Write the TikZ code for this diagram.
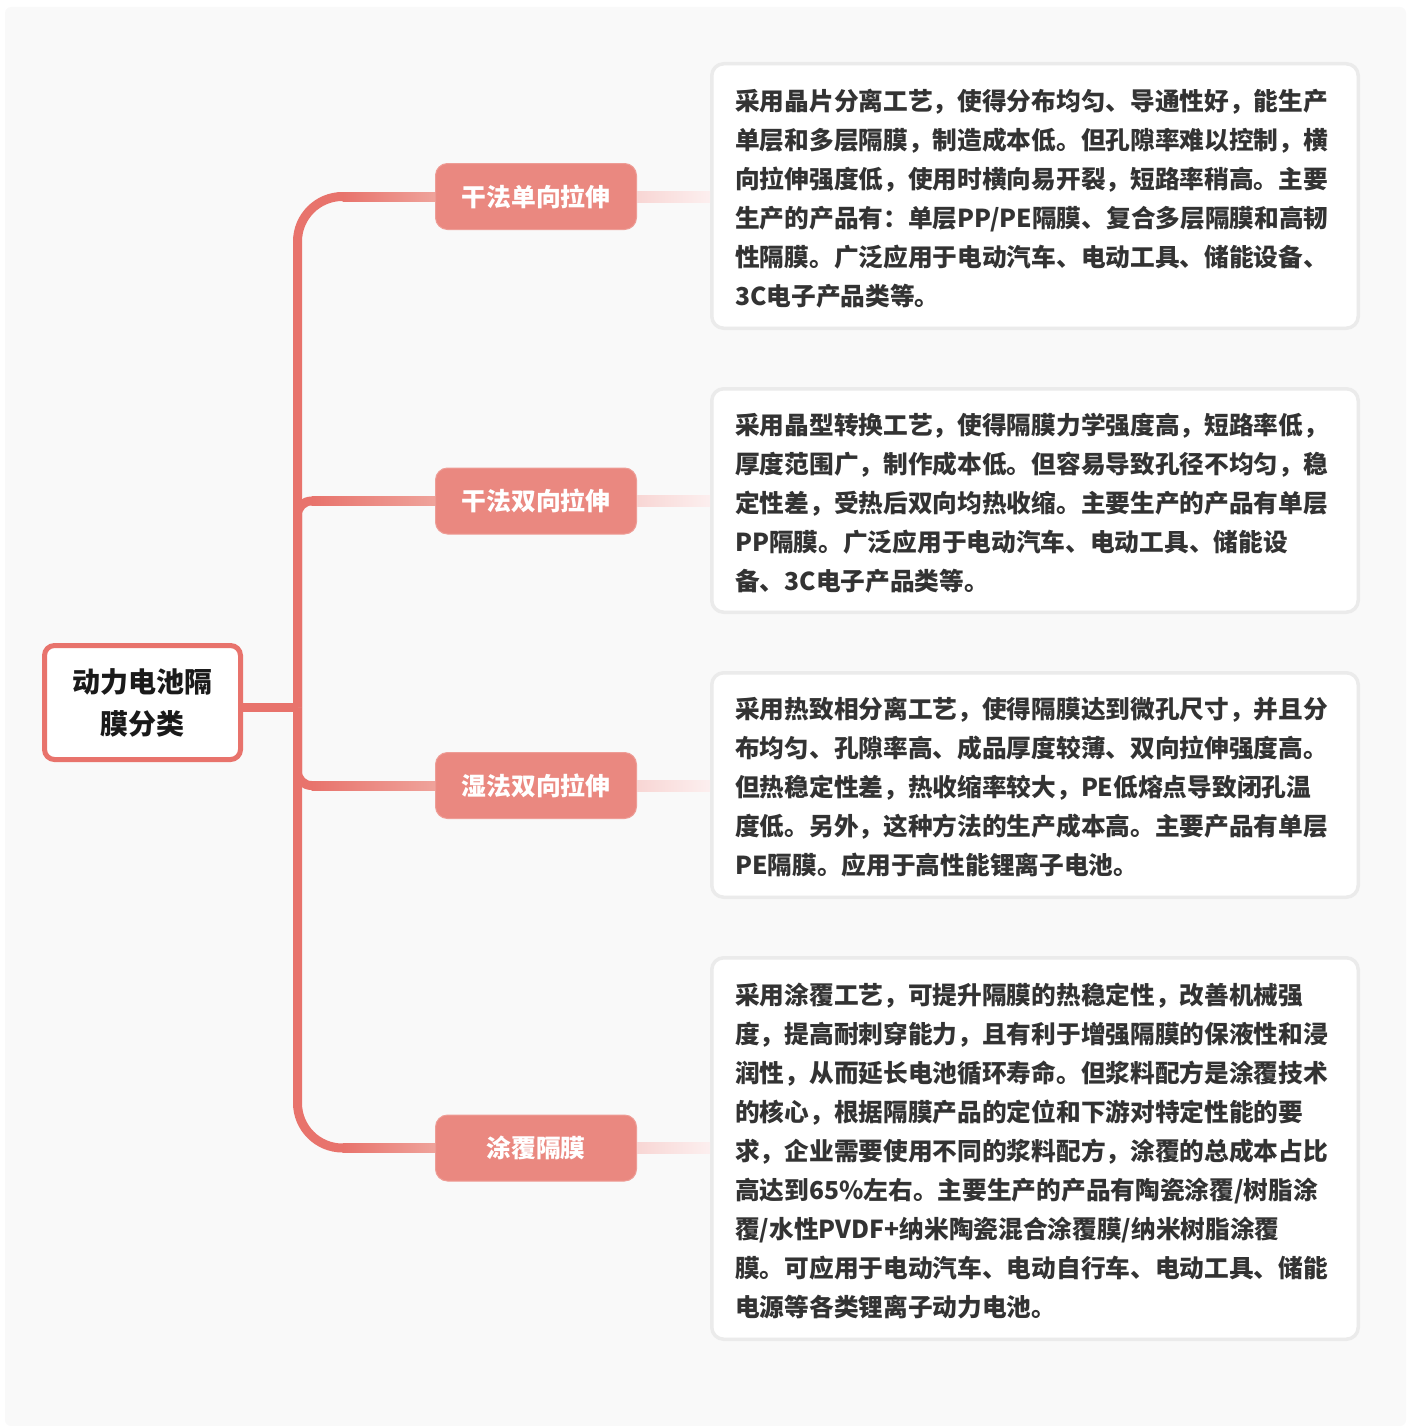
\documentclass[tikz,border=0pt]{standalone}
\usepackage{fontspec}
\setmainfont{Noto Sans CJK SC}
\usetikzlibrary{calc}
\definecolor{trunkc}{HTML}{E8736C}
\definecolor{trunklight}{HTML}{EFA39B}
\definecolor{branchc}{HTML}{EA8880}
\definecolor{branchedge}{HTML}{EE9D96}
\definecolor{descedge}{HTML}{EBEBEB}
\definecolor{txt}{HTML}{333333}
\definecolor{rootText}{HTML}{1A1A1A}
\definecolor{bgc}{HTML}{F9F9F9}
\definecolor{linkA}{HTML}{F8D6D4}
\definecolor{linkB}{HTML}{FCEFEF}
\begin{document}
\begin{tikzpicture}[x=1pt,y=-1pt,
  rootbox/.style={draw=trunkc, line width=5pt, fill=white, rounded corners=10pt, minimum width=196pt, minimum height=114pt, inner sep=0pt, align=center, font=\fontsize{28}{42}\selectfont\bfseries, text=rootText},
  branchbox/.style={fill=branchc, draw=branchedge, line width=1pt, rounded corners=12pt, minimum width=201pt, minimum height=66pt, inner sep=0pt, text=white, font=\fontsize{24.8}{30}\selectfont\bfseries},
  descbox/.style={draw=descedge, line width=3.5pt, fill=white, rounded corners=12pt, minimum width=646.5pt, inner sep=0pt},
  desctext/.style={anchor=west, align=left, inner sep=0pt, text=txt, font=\fontsize{24.7}{39}\selectfont\bfseries},
  trunk/.style={draw=trunkc, line width=9pt},
]
\useasboundingbox (0,0) rectangle (1418,1426);
\fill[bgc, rounded corners=6pt] (5,7) rectangle (1406,1426);

% description boxes
\node[descbox, minimum height=264.5pt] (d1) at (1035,196) {};
\node[descbox, minimum height=223.5pt] (d2) at (1035,500.5) {};
\node[descbox, minimum height=224.5pt] (d3) at (1035,785) {};
\node[descbox, minimum height=381.5pt] (d4) at (1035,1148.5) {};

% root and branches
\node[rootbox] (root) at (142.5,702.5) {动力电池隔\\膜分类};
\node[branchbox] (b1) at (536,196.5) {干法单向拉伸};
\node[branchbox] (b2) at (536,501) {干法双向拉伸};
\node[branchbox] (b3) at (536,785.5) {湿法双向拉伸};
\node[branchbox] (b4) at (536,1148) {涂覆隔膜};

\coordinate (tr) at (297.5,707.5);

% connectors
\draw[trunk] (root.east |- tr) -- (tr);
\draw[trunk, rounded corners=45pt] (tr) -- (tr |- b1) -- (b1.west);
\draw[trunk, rounded corners=45pt] (tr) -- (tr |- b4) -- (b4.west);
\draw[trunk, rounded corners=14pt] (tr) -- (tr |- b2) -- (b2.west);
\draw[trunk, rounded corners=14pt] (tr) -- (tr |- b3) -- (b3.west);

\shade[left color=trunkc, right color=trunklight] ($(tr |- b1)+(45,-4.5)$) rectangle ($(b1.west)+(0,4.5)$);
\shade[left color=trunkc, right color=trunklight] ($(tr |- b4)+(45,-4.5)$) rectangle ($(b4.west)+(0,4.5)$);
\shade[left color=trunkc, right color=trunklight] ($(tr |- b2)+(14,-4.5)$) rectangle ($(b2.west)+(0,4.5)$);
\shade[left color=trunkc, right color=trunklight] ($(tr |- b3)+(14,-4.5)$) rectangle ($(b3.west)+(0,4.5)$);

% branch to description links
\shade[left color=linkA, right color=linkB] ($(b1.east)+(0,-5.5)$) rectangle ($(b1.east -| d1.west)+(0,5.5)$);
\shade[left color=linkA, right color=linkB] ($(b2.east)+(0,-5.5)$) rectangle ($(b2.east -| d2.west)+(0,5.5)$);
\shade[left color=linkA, right color=linkB] ($(b3.east)+(0,-5.5)$) rectangle ($(b3.east -| d3.west)+(0,5.5)$);
\shade[left color=linkA, right color=linkB] ($(b4.east)+(0,-5.5)$) rectangle ($(b4.east -| d4.west)+(0,5.5)$);

% description texts
\node[desctext] (t1) at ($(d1.west)+(25,2.5)$) {采用晶片分离工艺，使得分布均匀、导通性好，能生产\\
单层和多层隔膜，制造成本低。但孔隙率难以控制，横\\
向拉伸强度低，使用时横向易开裂，短路率稍高。主要\\
生产的产品有：单层PP/PE隔膜、复合多层隔膜和高韧\\
性隔膜。广泛应用于电动汽车、电动工具、储能设备、\\
3C电子产品类等。};
\node[desctext] (t2) at ($(d2.west)+(25,2.5)$) {采用晶型转换工艺，使得隔膜力学强度高，短路率低，\\
厚度范围广，制作成本低。但容易导致孔径不均匀，稳\\
定性差，受热后双向均热收缩。主要生产的产品有单层\\
PP隔膜。广泛应用于电动汽车、电动工具、储能设\\
备、3C电子产品类等。};
\node[desctext] (t3) at ($(d3.west)+(25,2.5)$) {采用热致相分离工艺，使得隔膜达到微孔尺寸，并且分\\
布均匀、孔隙率高、成品厚度较薄、双向拉伸强度高。\\
但热稳定性差，热收缩率较大，PE低熔点导致闭孔温\\
度低。另外，这种方法的生产成本高。主要产品有单层\\
PE隔膜。应用于高性能锂离子电池。};
\node[desctext] (t4) at ($(d4.west)+(25,2.5)$) {采用涂覆工艺，可提升隔膜的热稳定性，改善机械强\\
度，提高耐刺穿能力，且有利于增强隔膜的保液性和浸\\
润性，从而延长电池循环寿命。但浆料配方是涂覆技术\\
的核心，根据隔膜产品的定位和下游对特定性能的要\\
求，企业需要使用不同的浆料配方，涂覆的总成本占比\\
高达到65\%左右。主要生产的产品有陶瓷涂覆/树脂涂\\
覆/水性PVDF+纳米陶瓷混合涂覆膜/纳米树脂涂覆\\
膜。可应用于电动汽车、电动自行车、电动工具、储能\\
电源等各类锂离子动力电池。};
\end{tikzpicture}
\end{document}
